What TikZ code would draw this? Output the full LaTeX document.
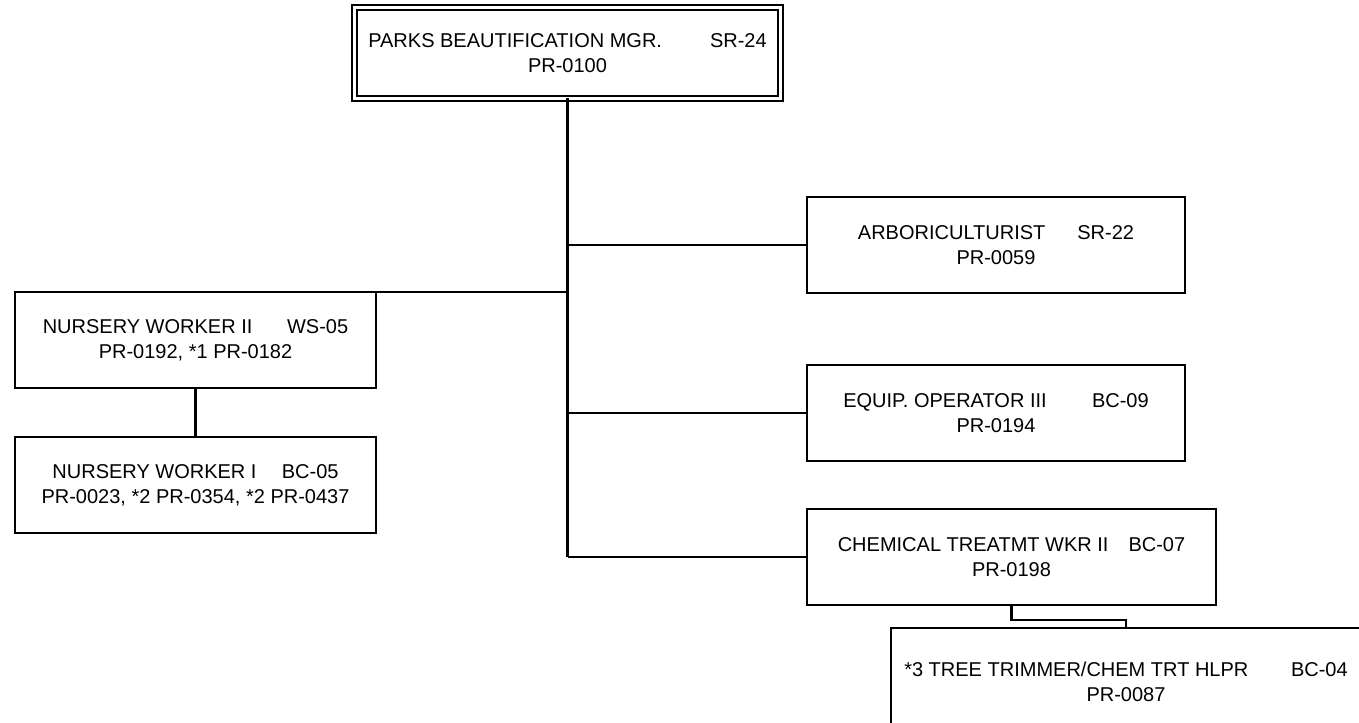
\documentclass[tikz,border=0pt]{standalone}
\usepackage{fontspec}
\setmainfont{Liberation Sans}
\begin{document}
\begin{tikzpicture}[x=0.75pt,y=-0.75pt,
  box/.style={draw,line width=1.7pt,rectangle,inner sep=0pt,outer sep=0pt,align=center,
    minimum height=72pt,font=\fontsize{15}{18.75}\selectfont},
  topbox/.style={box,double,double distance=2.25pt,line width=1.5pt},
  conn/.style={line width=1.7pt}]
\path[use as bounding box] (0,0) rectangle (1359,722);
\clip (0,0) rectangle (1359,722);
\node[topbox,minimum width=320pt,minimum height=67.9pt] (top) at (567.5,52.75)
  {PARKS BEAUTIFICATION MGR.\hspace{36pt}SR-24\\PR-0100};
\node[box,minimum width=283.5pt] (arb) at (996,245)
  {ARBORICULTURIST\hspace{24pt}SR-22\\PR-0059};
\node[box,minimum width=283.5pt] (equ) at (996,413)
  {EQUIP. OPERATOR III\hspace{34pt}BC-09\\PR-0194};
\node[box,minimum width=306.75pt] (chem) at (1011.5,557)
  {CHEMICAL TREATMT WKR II\hspace{15pt}BC-07\\PR-0198};
\node[box,minimum width=352.5pt,minimum height=81pt] (trim) at (1126,682)
  {*3 TREE TRIMMER/CHEM TRT HLPR\hspace{32pt}BC-04\\PR-0087};
\node[box,minimum width=270.75pt] (nwb) at (195.5,340)
  {NURSERY WORKER II\hspace{26pt}WS-05\\PR-0192, *1 PR-0182};
\node[box,minimum width=270.75pt] (nwa) at (195.5,485)
  {NURSERY WORKER I\hspace{19pt}BC-05\\PR-0023, *2 PR-0354, *2 PR-0437};
\draw[conn] (top.south) -- (top.south |- chem.west);
\draw[conn] (top.south |- arb.west) -- (arb.west);
\draw[conn] (top.south |- equ.west) -- (equ.west);
\draw[conn] (top.south |- chem.west) -- (chem.west);
\draw[conn] (top.south |- nwb.north east) -- (nwb.north east);
\draw[conn] (nwb.south) -- (nwa.north);
\draw[conn] (chem.south) -- ++(0,15) -| (trim.north);
\end{tikzpicture}
\end{document}
